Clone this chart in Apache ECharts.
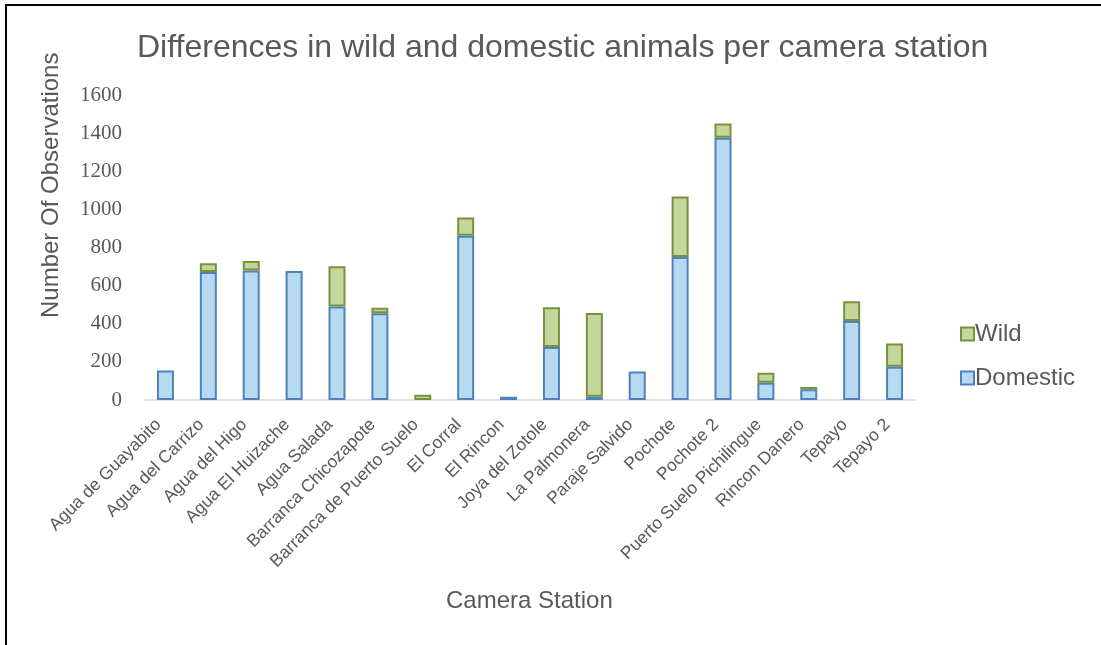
<!DOCTYPE html>
<html>
<head>
<meta charset="utf-8">
<script src="https://cdn.jsdelivr.net/npm/echarts@6/dist/echarts.min.js"></script>
<style>
html,body{margin:0;padding:0;background:#fff;}
#chart{width:1101px;height:645px;}
</style>
</head>
<body>
<div id="chart"></div>
<script>
const categories = ["Agua de Guayabito","Agua del Carrizo","Agua del Higo","Agua El Huizache","Agua Salada","Barranca Chicozapote","Barranca de Puerto Suelo","El Corral","El Rincon","Joya del Zotole","La Palmonera","Paraje Salvido","Pochote","Pochote 2","Puerto Suelo Pichilingue","Rincon Danero","Tepayo","Tepayo 2"];
const domestic = [155, 672, 680, 677, 490, 455, null, 862, 17, 278, 17, 149, 750, 1376, 91, 56, 414, 175];
const wild = [null, 45, 49, null, 211, 29, 27, 95, null, 208, 439, null, 317, 74, 52, 12, 104, 122];
const yTicks = [0, 200, 400, 600, 800, 1000, 1200, 1400, 1600];

const chart = echarts.init(document.getElementById('chart'), null, {renderer:'canvas'});
const txt = '#595959';
chart.setOption({
  animation: false,
  backgroundColor: '#fff',
  title: {
    text: 'Differences in wild and domestic animals per camera station',
    left: 132, top: 27,
    textStyle: {fontFamily: 'Liberation Sans', fontSize: 32, fontWeight: 'normal', color: txt}
  },
  legend: {
    orient: 'vertical', left: 955, top: 317,
    itemWidth: 13, itemHeight: 13, itemGap: 20, icon: 'rect',
    data: ['Wild', 'Domestic'],
    textStyle: {fontFamily: 'Liberation Sans', fontSize: 24, color: txt, padding: [0,0,0,-4]}
  },
  grid: {left: 144, right: 185, top: 95, bottom: 245, containLabel: false},
  xAxis: {
    type: 'category', data: categories,
    axisLine: {lineStyle: {color: '#D9D9D9', width: 1.5}},
    axisTick: {show: false},
    axisLabel: {rotate: 45, interval: 0, fontFamily: 'Liberation Sans', fontSize: 17.5, color: txt, margin: 15, padding: [0, 10, 0, 0]}
  },
  yAxis: {
    type: 'value', min: 0, max: 1600, interval: 200,
    axisLine: {show: false}, axisTick: {show: false},
    splitLine: {show: false},
    axisLabel: {fontFamily: 'Liberation Serif', fontSize: 21, color: txt, margin: 22,
      formatter: v => yTicks.includes(v) ? String(v) : ''}
  },
  graphic: [
    {type: 'text', left: 446, top: 589, style: {text: 'Camera Station', font: '24px "Liberation Sans"', fill: txt}},
    {type: 'text', x: 39, y: 318, rotation: Math.PI/2, style: {text: 'Number Of Observations', font: '24px "Liberation Sans"', fill: txt}},
    {type: 'polyline', shape: {points: [[6, 645], [6, 5], [1101, 5]]}, style: {stroke: '#000', lineWidth: 2, fill: null}}
  ],
  series: [
    {name: 'Domestic', type: 'bar', stack: 'a', data: domestic, barWidth: 17,
     itemStyle: {color: '#B8DAF0', borderColor: '#4F81BD', borderWidth: 2}},
    {name: 'Wild', type: 'bar', stack: 'a', data: wild, barWidth: 17,
     itemStyle: {color: '#C4D69B', borderColor: '#76923C', borderWidth: 2}}
  ]
});
</script>
</body>
</html>
